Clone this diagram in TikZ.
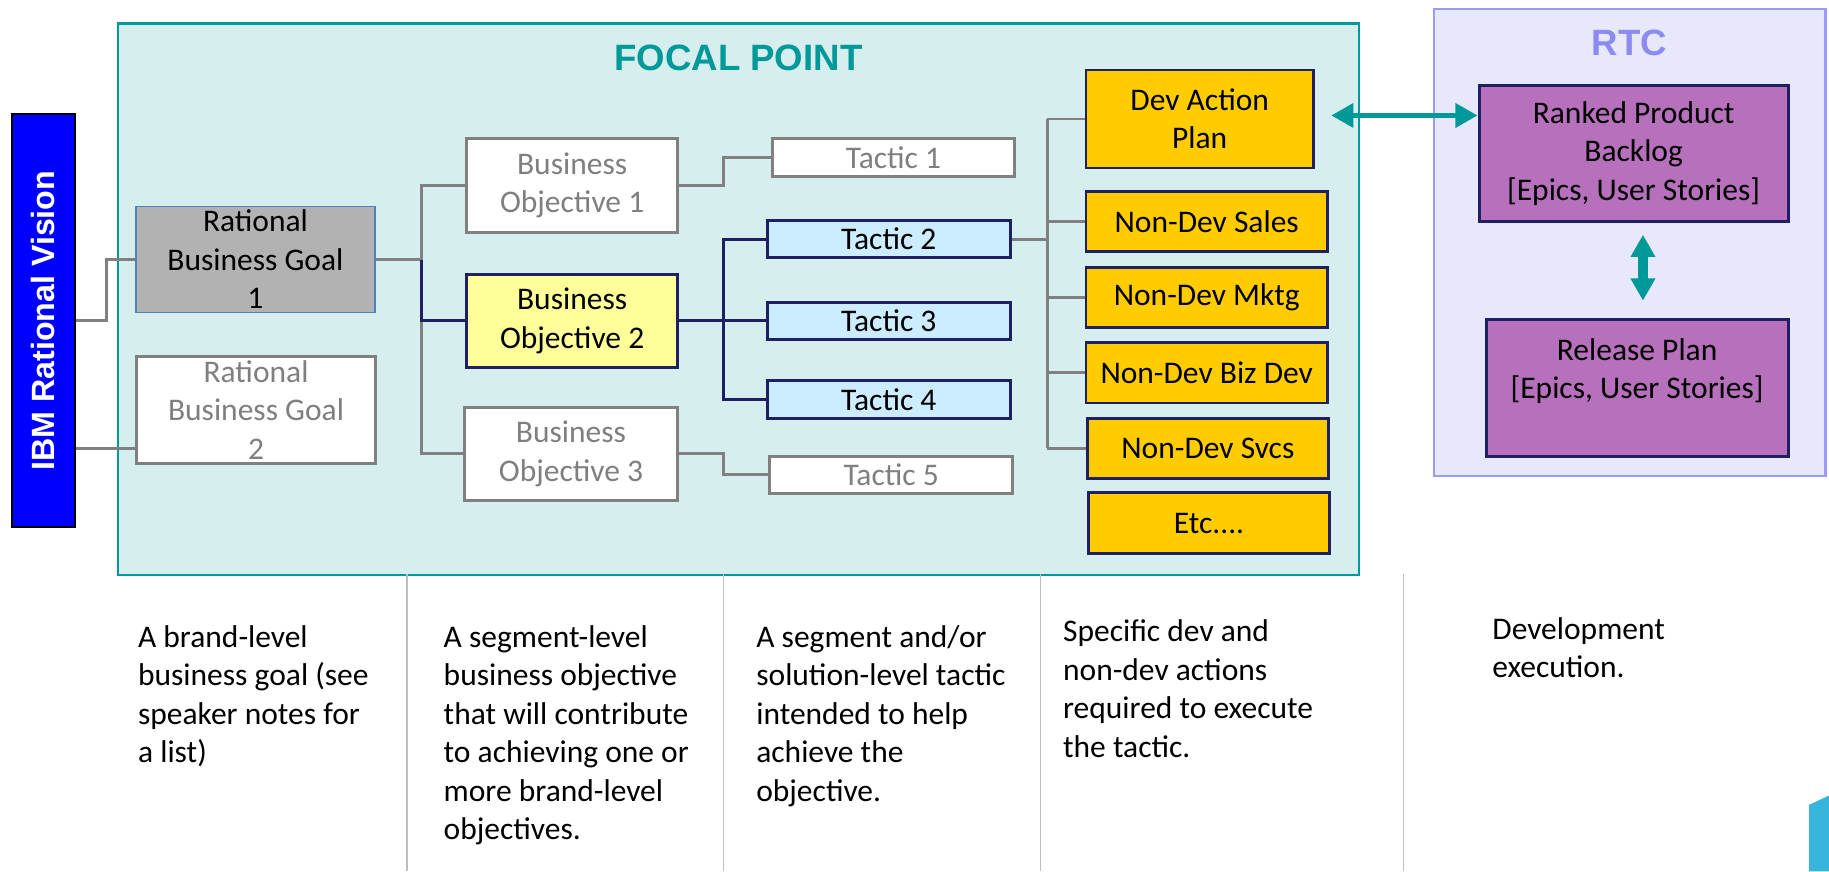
\documentclass[tikz,border=0pt]{standalone}
\usepackage{fontspec}
\setmainfont{Carlito}
\newfontfamily\headfont{Liberation Sans}
\usetikzlibrary{arrows.meta}

\definecolor{focalteal}{RGB}{0,153,153}
\definecolor{focalfill}{RGB}{214,238,238}
\definecolor{rtcline}{RGB}{153,153,255}
\definecolor{rtcfill}{RGB}{232,232,252}
\definecolor{rtctext}{RGB}{140,140,240}
\definecolor{boxnavy}{RGB}{31,31,100}
\definecolor{linkgray}{RGB}{128,128,128}
\definecolor{ghosttext}{RGB}{127,127,127}
\definecolor{goldfill}{RGB}{255,204,0}
\definecolor{tacticblue}{RGB}{204,236,255}
\definecolor{objyellow}{RGB}{255,255,153}
\definecolor{goalgray}{RGB}{178,178,178}
\definecolor{goalblue}{RGB}{79,129,189}
\definecolor{backlogfill}{RGB}{182,112,188}
\definecolor{barblue}{RGB}{0,0,255}
\definecolor{cornerblue}{RGB}{55,181,221}
\definecolor{divgray}{RGB}{190,190,190}

\newcommand{\pxunit}{0.5pt}
\newcommand{\cellfont}{\fontsize{13.5}{16.5}\selectfont}
\newcommand{\headsize}{\fontsize{15.7}{18}\selectfont}

\tikzstyle{box}=[draw, rectangle, align=center, inner sep=0pt, line width=1.25pt, font=\cellfont]
\tikzstyle{ghostbox}=[box, draw=linkgray, fill=white, text=ghosttext]
\tikzstyle{goalbox}=[box, draw=goalblue, line width=0.6pt, fill=goalgray, minimum width=102.5pt, minimum height=45.5pt]
\tikzstyle{objbox}=[box, draw=boxnavy, fill=objyellow, minimum width=90.5pt, minimum height=40pt]
\tikzstyle{tacticbox}=[box, draw=boxnavy, fill=tacticblue, minimum width=104pt, minimum height=16pt]
\tikzstyle{actionbox}=[box, draw=boxnavy, fill=goldfill, minimum width=103.5pt, minimum height=26pt]
\tikzstyle{rtcbox}=[box, draw=boxnavy, fill=backlogfill, minimum height=58.5pt]
\tikzstyle{focalarea}=[draw=focalteal, line width=1.1pt, fill=focalfill, minimum width=532pt, minimum height=236.5pt]
\tikzstyle{rtcarea}=[draw=rtcline, line width=0.9pt, fill=rtcfill, minimum width=168pt, minimum height=200pt]
\tikzstyle{areatitle}=[font=\headfont\bfseries\headsize, inner sep=0pt]
\tikzstyle{visionbar}=[draw=black, line width=0.8pt, fill=barblue, text=white, rotate=90, font=\headfont\bfseries\fontsize{13.8}{16}\selectfont, minimum width=177pt, minimum height=27pt, inner sep=0pt]
\tikzstyle{link}=[draw=linkgray, line width=1.25pt]
\tikzstyle{navylink}=[draw=boxnavy, line width=1.25pt]
\tikzstyle{biarrow}=[draw=focalteal, line width=2.5pt, {Triangle[width=10pt,length=9.5pt]}-{Triangle[width=10pt,length=9.5pt]}]
\tikzstyle{note}=[anchor=base west, align=left, inner sep=0pt, font=\cellfont]
\tikzstyle{divider}=[draw=divgray, line width=0.6pt]

\begin{document}
\begin{tikzpicture}[x=\pxunit, y=-\pxunit]
    \useasboundingbox (0,0) rectangle (1568,747);
    % First we draw the two areas and their titles
    \node[focalarea] (focal) at (633,256.5) {};
    \node[rtcarea] (rtc) at (1397,208) {};
    \node[areatitle, text=focalteal] (focaltitle) at (633,50) {FOCAL POINT};
    \node[areatitle, text=rtctext] (rtctitle) at (1397,37) {RTC};
    \node[visionbar] (vision) at (37,275) {IBM Rational Vision};

    % Goals and objectives
    \node[goalbox] (goal1) at (219,222.5) {Rational\\Business Goal\\1};
    \node[ghostbox, minimum width=102.5pt, minimum height=45.5pt] (goal2) at (219.5,351.5) {Rational\\Business Goal\\2};
    \node[ghostbox, minimum width=90.5pt, minimum height=40pt] (obj1) at (490.5,159) {Business\\Objective 1};
    \node[objbox] (obj2) at (490.5,275) {Business\\Objective 2};
    \node[ghostbox, minimum width=91pt, minimum height=40pt] (obj3) at (489.5,389) {Business\\Objective 3};

    % Tactics
    \node[ghostbox, minimum width=104pt, minimum height=16pt] (t1) at (766,135) {Tactic 1};
    \foreach \pos/\name/\txt in {{(762,205)/t2/Tactic 2}, {(762,275)/t3/Tactic 3}, {(762,342.5)/t4/Tactic 4}}
        \node[tacticbox] (\name) at \pos {\txt};
    \node[ghostbox, minimum width=104pt, minimum height=16pt] (t5) at (764,407) {Tactic 5};

    % Actions
    \node[actionbox, minimum width=97.5pt, minimum height=42pt] (dev) at (1028.5,102) {Dev Action\\Plan};
    \foreach \pos/\name/\txt in {{(1034.5,190)/sales/Non-Dev Sales}, {(1034.5,255)/mktg/Non-Dev Mktg}, {(1034.5,319.5)/bizdev/Non-Dev Biz Dev}, {(1035.5,384.5)/svcs/Non-Dev Svcs}}
        \node[actionbox] (\name) at \pos {\txt};
    \node[actionbox] (etc) at (1036.5,448.5) {Etc....};

    % RTC items
    \node[rtcbox, minimum width=132.5pt] (backlog) at (1400.5,131.5) {Ranked Product\\Backlog\\{}[Epics, User Stories]};
    \node[rtcbox, minimum width=129.5pt] (release) at (1403.5,332.5) {Release Plan\\{}[Epics, User Stories]\\\mbox{}};

    % Connect the boxes
    \coordinate (gx) at (91,0);
    \coordinate (ox) at (361,0);
    \coordinate (tx) at (620,0);
    \coordinate (ax) at (898,0);
    \coordinate (goal2in) at ([yshift=-16.5pt]goal2.west);
    \draw[link] (vision.south) -- (vision.south -| gx) |- (goal1.west);
    \draw[link] (vision.south |- goal2in) -- (goal2in);

    \coordinate (ob) at (goal1.east -| ox);
    \draw[link] (goal1.east) -- (ob);
    \draw[link] (obj1.west) -| (ob) |- (obj3.west);
    \draw[navylink] (ob) |- (obj2.west);

    \draw[link] (obj1.east) -- (obj1.east -| tx) |- (t1.west);
    \draw[link] (obj3.east) -- (obj3.east -| tx) |- (t5.west);
    \draw[navylink] (obj2.east) -- (t3.west);
    \draw[navylink] (t2.west) -- (t2.west -| tx) |- (t4.west);

    \draw[link] (t2.east) -- (t2.east -| ax);
    \draw[link] (ax |- dev.west) -- (ax |- svcs.west);
    \foreach \name in {dev,sales,mktg,bizdev,svcs}
        \draw[link] (ax |- \name.west) -- (\name.west);

    % Arrows to and inside RTC
    \coordinate (al) at ([xshift=7pt,yshift=1.5pt]dev.east);
    \draw[biarrow] (al) -- (al -| backlog.west);
    \coordinate (vt) at ([xshift=4pt,yshift=-5pt]backlog.south);
    \coordinate (vb) at ([xshift=2.5pt,yshift=7.5pt]release.north);
    \draw[biarrow, line width=4pt] (vt) -- (vb);

    % Column notes (placed at the baseline of their last line)
    \foreach \x in {349,620,892,1203}
        \draw[divider] (\x,492) -- (\x,747);
    \node[note] (note1) at (118,654) {A brand-level\\business goal (see\\speaker notes for\\a list)};
    \node[note] (note2) at (380,720) {A segment-level\\business objective\\that will contribute\\to achieving one or\\more brand-level\\objectives.};
    \node[note] (note3) at (648,687) {A segment and/or\\solution-level tactic\\intended to help\\achieve the\\objective.};
    \node[note] (note4) at (911,649) {Specific dev and\\non-dev actions\\required to execute\\the tactic.};
    \node[note] (note5) at (1279,581) {Development\\execution.};

    \fill[cornerblue] (1551,690) -- (1568,682) -- (1568,747) -- (1551,747) -- cycle;
\end{tikzpicture}
\end{document}
